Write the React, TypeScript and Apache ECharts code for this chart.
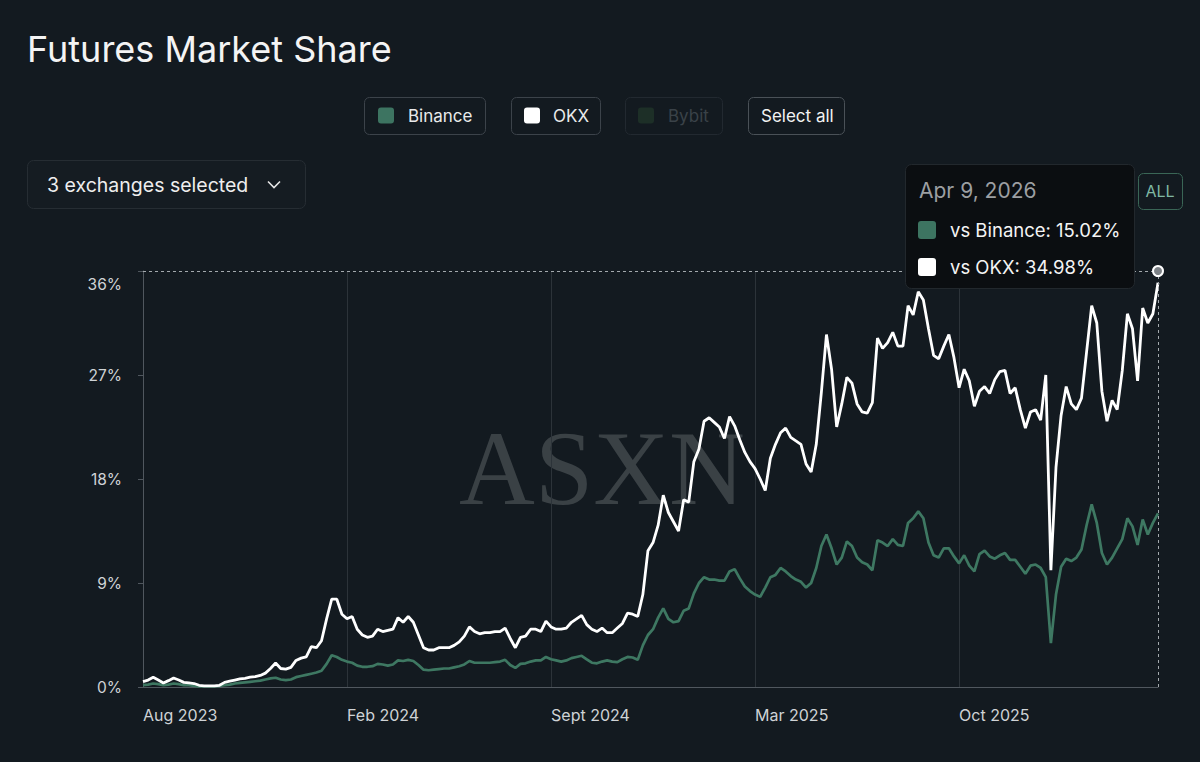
import React, { useEffect, useRef } from "react";
import * as echarts from "echarts";

// ---- data ----
const tickLabels = ["Aug 2023", "Feb 2024", "Sept 2024", "Mar 2025", "Oct 2025"];
const TICK_EVERY = 40; // one labelled tick every 40 samples
const yMax = 36;
const yStep = 9;

const okx = [
  0.46, 0.6, 0.85, 0.6, 0.35, 0.55, 0.78, 0.6, 0.4, 0.35,
  0.3, 0.15, 0.1, 0.1, 0.1, 0.15, 0.4, 0.5, 0.6, 0.7,
  0.75, 0.85, 0.9, 1.0, 1.2, 1.6, 2.07, 1.6, 1.55, 1.7,
  2.3, 2.5, 2.6, 3.5, 3.4, 4.0, 5.9, 7.6, 7.6, 6.3,
  5.9, 6.1, 5.0, 4.5, 4.3, 4.4, 5.0, 4.8, 4.9, 5.0,
  6.0, 5.6, 6.1, 5.6, 4.5, 3.4, 3.2, 3.2, 3.4, 3.4,
  3.4, 3.6, 3.9, 4.4, 5.2, 4.8, 4.6, 4.7, 4.7, 4.8,
  4.8, 5.1, 4.2, 3.4, 4.3, 4.4, 5.0, 5.0, 4.8, 5.7,
  5.2, 5.0, 5.0, 5.1, 5.6, 5.9, 6.2, 5.4, 5.0, 4.8,
  5.1, 4.7, 4.7, 5.1, 5.5, 6.4, 6.3, 6.1, 8.0, 11.8,
  12.5, 14.0, 16.6, 15.1, 14.3, 13.5, 16.2, 16.0, 19.5, 20.6,
  23.0, 23.3, 22.9, 22.5, 21.5, 23.4, 22.6, 21.4, 20.3, 19.5,
  18.9, 18.0, 17.0, 19.8, 21.0, 22.0, 22.4, 21.6, 21.3, 21.0,
  19.3, 18.6, 21.0, 25.5, 30.5, 27.5, 22.5, 24.5, 26.8, 26.3,
  24.5, 23.8, 23.7, 24.6, 30.2, 29.3, 29.8, 30.7, 29.5, 29.5,
  33.0, 32.2, 34.2, 33.5, 31.0, 28.7, 28.4, 29.5, 30.5, 28.5,
  25.9, 27.5, 26.5, 24.3, 25.6, 26.0, 25.4, 26.6, 27.3, 27.4,
  25.4, 25.9, 24.0, 22.4, 23.8, 24.0, 23.1, 27.0, 10.1, 19.0,
  23.5, 26.0, 24.5, 24.0, 25.0, 29.0, 33.0, 31.5, 25.6, 23.0,
  24.8, 24.0, 27.4, 32.3, 31.0, 26.5, 32.8, 31.5, 32.3, 34.98,
];

const binance = [
  0.17, 0.2, 0.3, 0.25, 0.15, 0.2, 0.3, 0.25, 0.15, 0.15,
  0.1, 0.05, 0.05, 0.05, 0.05, 0.1, 0.15, 0.2, 0.3, 0.35,
  0.4, 0.45, 0.5, 0.55, 0.65, 0.75, 0.8, 0.65, 0.6, 0.65,
  0.85, 0.95, 1.05, 1.15, 1.25, 1.4, 2.0, 2.75, 2.6, 2.35,
  2.2, 2.1, 1.85, 1.75, 1.75, 1.8, 2.0, 1.95, 1.85, 1.95,
  2.3, 2.25, 2.35, 2.25, 1.9, 1.5, 1.45, 1.5, 1.55, 1.6,
  1.6, 1.7, 1.8, 1.95, 2.25, 2.1, 2.1, 2.1, 2.1, 2.15,
  2.2, 2.35, 1.9, 1.65, 2.0, 2.05, 2.2, 2.3, 2.3, 2.6,
  2.4, 2.3, 2.2, 2.3, 2.5, 2.6, 2.7, 2.4, 2.1, 2.05,
  2.2, 2.3, 2.2, 2.15, 2.4, 2.6, 2.55, 2.35, 3.6, 4.5,
  5.0, 6.0, 6.8, 5.9, 5.6, 5.7, 6.6, 6.8, 8.1, 9.0,
  9.5, 9.3, 9.3, 9.2, 9.2, 10.0, 10.2, 9.4, 8.7, 8.3,
  8.0, 7.8, 8.6, 9.5, 9.7, 10.3, 10.0, 9.6, 9.3, 9.1,
  8.6, 9.0, 10.3, 12.2, 13.2, 12.0, 10.6, 11.2, 12.6, 12.2,
  11.2, 10.8, 10.6, 10.1, 12.7, 12.5, 12.2, 12.8, 12.3, 12.2,
  14.2, 14.6, 15.2, 14.6, 12.5, 11.4, 11.2, 12.0, 12.0, 11.3,
  10.7, 11.4, 10.5, 10.0, 11.5, 11.8, 11.3, 11.1, 11.4, 11.6,
  11.0, 11.0, 10.4, 9.8, 10.5, 10.6, 10.3, 9.5, 3.8, 8.0,
  10.4, 11.1, 10.9, 11.2, 11.9, 14.0, 15.8, 14.2, 11.6, 10.6,
  11.2, 12.0, 12.8, 14.6, 13.9, 12.3, 14.5, 13.2, 14.2, 15.02,
];

// sample dates (every ~5 days, ending Apr 9, 2026)
const END_DATE = Date.UTC(2026, 3, 9);
const STEP_DAYS = 4.95;
const categories: string[] = okx.map((_, i) => {
  const t = END_DATE - (okx.length - 1 - i) * STEP_DAYS * 86400000;
  return new Date(t).toISOString().slice(0, 10);
});

const tooltipDate = "Apr 9, 2026";
const tooltipRows = [
  { name: "vs Binance", value: "15.02%" },
  { name: "vs OKX", value: "34.98%" },
];

// ---- styles ----
const BG = "#131a20";
const GREEN = "#3e7862";
const FONT = "Inter, 'Noto Sans', sans-serif";
const AXIS = "#50575e";
const LABEL = "#cfd3d6";

function buildOption(): any {
  const last = categories[categories.length - 1];
  const btn = (x: number, w: number, stroke: string) => ({
    type: "rect",
    shape: { x: x + 0.5, y: 97.5, width: w, height: 37, r: 5 },
    style: { fill: BG, stroke, lineWidth: 1 },
    z: 10,
  });
  const sw = (x: number, fill: string) => ({
    type: "rect",
    shape: { x, y: 107.5, width: 16, height: 16, r: 3 },
    style: { fill },
    z: 11,
  });
  const txt = (x: number, y: number, text: string, size: number, fill: string, extra: any = {}) => ({
    type: "text",
    x,
    y,
    style: {
      text,
      fill,
      fontSize: size,
      fontFamily: FONT,
      align: "left",
      verticalAlign: "middle",
      ...extra,
    },
    z: 11,
  });

  return {
    animation: false,
    backgroundColor: BG,
    grid: { left: 143, right: 42, top: 271, bottom: 75, outerBoundsMode: "none" },
    xAxis: {
      type: "category",
      data: categories,
      boundaryGap: false,
      axisLine: { show: true, lineStyle: { color: AXIS, width: 1 } },
      axisTick: { show: false },
      axisLabel: {
        interval: (i: number) => i % TICK_EVERY === 0,
        formatter: (_v: string, i: number) => tickLabels[Math.round(i / TICK_EVERY)] ?? "",
        align: "left",
        color: LABEL,
        fontSize: 16,
        fontFamily: FONT,
        margin: 20,
      },
      splitLine: {
        show: true,
        interval: (i: number) => i % TICK_EVERY === 0,
        lineStyle: { color: "#2c3339", width: 1 },
      },
    },
    yAxis: {
      type: "value",
      min: 0,
      max: yMax,
      interval: yStep,
      axisLine: { show: true, lineStyle: { color: AXIS, width: 1 } },
      axisTick: { show: true, length: 5, lineStyle: { color: AXIS } },
      splitLine: { show: false },
      axisLabel: {
        color: LABEL,
        fontSize: 15.5,
        fontFamily: FONT,
        margin: 21,
        formatter: (v: number) => (v === yMax ? `{top|${v}%}` : `${v}%`),
        rich: {
          top: { padding: [26, 0, 0, 0], color: LABEL, fontSize: 15.5, fontFamily: FONT },
        },
      },
    },
    series: [
      {
        name: "Binance",
        type: "line",
        data: binance,
        showSymbol: false,
        lineStyle: { color: GREEN, width: 2.7 },
        itemStyle: { color: GREEN },
        z: 3,
      },
      {
        name: "OKX",
        type: "line",
        data: okx,
        showSymbol: false,
        lineStyle: { color: "#ffffff", width: 2.8 },
        itemStyle: { color: "#ffffff" },
        z: 4,
        markLine: {
          silent: true,
          symbol: ["none", "none"],
          label: { show: false },
          lineStyle: { color: "#a3a9ad", type: [3, 3], width: 1 },
          data: [{ yAxis: yMax }, { xAxis: last }],
        },
        markPoint: {
          silent: true,
          symbol: "circle",
          symbolSize: 10,
          label: { show: false },
          itemStyle: { color: "#7c8186", borderColor: "#ffffff", borderWidth: 2 },
          data: [{ coord: [last, yMax] }],
        },
      },
    ],
    graphic: [
      // watermark
      {
        type: "text",
        x: 602,
        y: 468,
        z: 0,
        silent: true,
        style: {
          text: "ASXN",
          fill: "#3a4145",
          fontSize: 105,
          fontFamily: "'Liberation Serif', 'DejaVu Serif', serif",
          align: "center",
          verticalAlign: "middle",
        },
      },
      // title
      txt(27, 49, "Futures Market Share", 36, "#f4f4f4"),
      // legend buttons
      btn(364, 121, "#3c434a"),
      sw(378, "#3d7461"),
      txt(408, 116, "Binance", 17, "#e9eaeb"),
      btn(511, 89, "#3c434a"),
      sw(524, "#ffffff"),
      txt(553, 116, "OKX", 17, "#e9eaeb"),
      btn(625, 97, "#222930"),
      sw(638, "#1d2f27"),
      txt(668, 116, "Bybit", 17, "#3a4248"),
      btn(748, 96, "#4a5157"),
      txt(761, 116, "Select all", 17, "#f2f2f2"),
      // dropdown
      {
        type: "rect",
        shape: { x: 27.5, y: 160.5, width: 278, height: 48, r: 6 },
        style: { fill: "#151c22", stroke: "#262d33", lineWidth: 1 },
        z: 10,
      },
      txt(47, 185, "3 exchanges selected", 19.5, "#eeeeee"),
      {
        type: "polyline",
        shape: { points: [[268, 181.5], [274, 187.5], [280, 181.5]] },
        style: { stroke: "#e6e6e6", lineWidth: 1.6, fill: null },
        z: 11,
      },
      // ALL button
      {
        type: "rect",
        shape: { x: 1138.5, y: 173.5, width: 44, height: 36, r: 5 },
        style: { fill: BG, stroke: "#3a6656", lineWidth: 1 },
        z: 10,
      },
      txt(1160, 191, "ALL", 16, "#7fb8a3", { align: "center" }),
      // tooltip
      {
        type: "rect",
        shape: { x: 905.5, y: 164.5, width: 229, height: 124, r: 6 },
        style: { fill: "#0b0e11", stroke: "#22282d", lineWidth: 1 },
        z: 50,
      },
      { ...txt(919, 190, tooltipDate, 21, "#9c9fa2"), z: 51 },
      {
        type: "rect",
        shape: { x: 918, y: 221, width: 18, height: 18, r: 3 },
        style: { fill: "#3d7461" },
        z: 51,
      },
      { ...txt(950, 230, `${tooltipRows[0].name}: ${tooltipRows[0].value}`, 18.5, "#f4f4f4"), z: 51 },
      {
        type: "rect",
        shape: { x: 918, y: 258, width: 18, height: 18, r: 3 },
        style: { fill: "#ffffff" },
        z: 51,
      },
      { ...txt(950, 267, `${tooltipRows[1].name}: ${tooltipRows[1].value}`, 18.5, "#f4f4f4"), z: 51 },
    ],
  };
}

export default function App() {
  const ref = useRef<HTMLDivElement>(null);
  useEffect(() => {
    document.body.style.margin = "0";
    document.body.style.background = BG;
    const chart = echarts.init(ref.current!, null, { renderer: "svg" });
    chart.setOption(buildOption());
    return () => chart.dispose();
  }, []);
  return (
    <div
      ref={ref}
      style={{ position: "fixed", left: 0, top: 0, width: 1200, height: 762, background: BG }}
    />
  );
}
